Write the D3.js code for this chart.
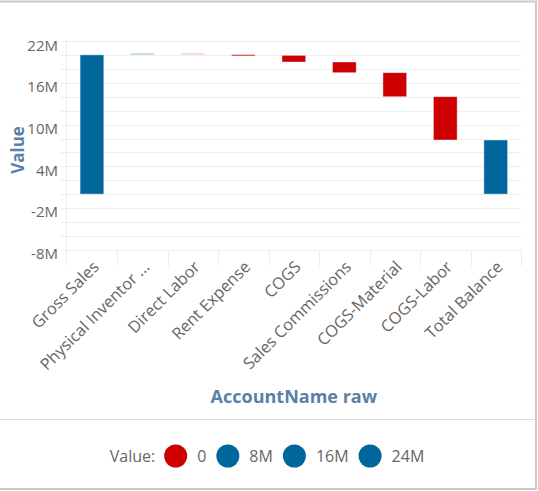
<!DOCTYPE html>
<html>
<head>
<meta charset="utf-8">
<script src="https://cdn.jsdelivr.net/npm/d3@7"></script>
<style>
  body { margin: 0; background: #fff; }
  svg { display: block; font-family: "Open Sans", sans-serif; }
</style>
</head>
<body>
<svg id="chart" width="538" height="491"></svg>
<script>
// waterfall data, values in millions
var categories = ["Gross Sales", "Physical Inventor ...", "Direct Labor", "Rent Expense", "COGS",
    "Sales Commissions", "COGS-Material", "COGS-Labor", "Total Balance"];
var changes = [20.06, 0.25, -0.2, -0.12, -0.96, -1.54, -3.46, -6.24, 0];
var isTotal = [false, false, false, false, false, false, false, false, true];

// axis ticks
var yLabelTicks = [22, 16, 10, 4, -2, -8];
var yGridTicks = d3.range(-8, 23, 2);

// legend entries
var legendLabels = ["0", "8M", "16M", "24M"];
var legendKinds = ["neg", "pos", "pos", "pos"];

var BLUE = "#00669c", RED = "#cc0000";
var svg = d3.select("#chart");

// frame + legend separator
svg.append("rect")
    .attr("x", -5).attr("y", 1.5).attr("width", 541).attr("height", 487.5)
    .attr("fill", "none").attr("stroke", "#c9c9c9").attr("stroke-width", 2);
svg.append("line")
    .attr("x1", 0).attr("x2", 535).attr("y1", 419.5).attr("y2", 419.5)
    .attr("stroke", "#dcdcdc");

// build running totals
var running = 0;
var bars = categories.map(function (c, i) {
    var start, end;
    if (i === 0 || isTotal[i]) {
        start = 0;
        end = i === 0 ? changes[i] : running;
    } else {
        start = running;
        end = running + changes[i];
    }
    running = end;
    return { name: c, start: start, end: end, delta: end - start, total: i === 0 || isTotal[i] };
});

var x = d3.scaleBand().domain(categories).range([66.7, 521]).padding(0);
var y = d3.scaleLinear().domain([-8, 22]).range([249.6, 41.4]);

// gridlines
svg.append("g").selectAll("line")
    .data(yGridTicks)
    .enter().append("line")
    .attr("x1", 61).attr("x2", 521)
    .attr("y1", function (d) { return Math.round(y(d)) + 0.5; })
    .attr("y2", function (d) { return Math.round(y(d)) + 0.5; })
    .attr("stroke", "#ededed");

// left axis line
svg.append("line")
    .attr("x1", 66.5).attr("x2", 66.5).attr("y1", 40).attr("y2", 266)
    .attr("stroke", "#ececec");

// category separators below the plot
svg.append("g").selectAll("line")
    .data(categories.slice(1).map(function (c) { return x(c); }).concat([x.range()[1]]))
    .enter().append("line")
    .attr("x1", function (d) { return Math.round(d) + 0.5; })
    .attr("x2", function (d) { return Math.round(d) + 0.5; })
    .attr("y1", 250).attr("y2", 266)
    .attr("stroke", "#ececec");

// y tick labels
svg.append("g").selectAll("text")
    .data(yLabelTicks)
    .enter().append("text")
    .attr("x", 58)
    .attr("y", function (d) { return y(d) + 4; })
    .attr("dy", "0.35em")
    .attr("text-anchor", "end")
    .attr("fill", "#666")
    .attr("font-size", 15)
    .text(function (d) { return d + "M"; });

// bars
function barFill(d, i) {
    if (d.total) return BLUE;
    return d.delta >= 0 ? BLUE : RED;
}
function barOpacity(d, i) {
    // the tiny steps are drawn faded in the original
    var h = Math.abs(y(d.start) - y(d.end));
    if (h < 2.5) return d.delta >= 0 ? 0.35 : (i === 2 ? 0.25 : 0.75);
    return 1;
}
var bw = x.bandwidth() * 0.47;
svg.append("g").selectAll("rect")
    .data(bars)
    .enter().append("rect")
    .attr("x", function (d) { return x(d.name) + (x.bandwidth() - bw) / 2; })
    .attr("width", bw)
    .attr("y", function (d) { return y(Math.max(d.start, d.end)); })
    .attr("height", function (d) { return Math.max(1.5, Math.abs(y(d.start) - y(d.end))); })
    .attr("fill", barFill)
    .attr("fill-opacity", barOpacity)
    .attr("stroke", "#fff")
    .attr("stroke-opacity", 0.5)
    .attr("stroke-width", 0.8);

// x labels
svg.append("g").selectAll("text")
    .data(categories)
    .enter().append("text")
    .attr("transform", function (d) {
        return "translate(" + (x(d) + x.bandwidth() / 2 + 8) + ",268) rotate(-45)";
    })
    .attr("text-anchor", "end")
    .attr("fill", "#666")
    .attr("font-size", 16.3)
    .text(function (d) { return d; });

// axis titles
svg.append("text")
    .attr("x", (x.range()[0] + x.range()[1]) / 2)
    .attr("y", 403)
    .attr("text-anchor", "middle")
    .attr("fill", "#5b7fa8")
    .attr("font-size", 18)
    .attr("font-weight", "bold")
    .text("AccountName raw");

svg.append("text")
    .attr("transform", "translate(24,150) rotate(-90)")
    .attr("text-anchor", "middle")
    .attr("fill", "#5b7fa8")
    .attr("font-size", 17)
    .attr("font-weight", "bold")
    .text("Value");

// legend, laid out left to right and then centred
var legend = svg.append("g");
var cursor = 0, ly = 462;
var title = legend.append("text")
    .attr("x", 0).attr("y", ly)
    .attr("fill", "#666").attr("font-size", 16)
    .text("Value:");
cursor = title.node().getComputedTextLength() + 9;
legendLabels.forEach(function (lab, i) {
    legend.append("circle")
        .attr("cx", cursor + 11.5).attr("cy", ly - 6).attr("r", 11.5)
        .attr("fill", legendKinds[i] === "neg" ? RED : BLUE);
    cursor += 23 + 10;
    var t = legend.append("text")
        .attr("x", cursor).attr("y", ly)
        .attr("fill", "#666").attr("font-size", 16)
        .text(lab);
    cursor += t.node().getComputedTextLength() + 10;
});
cursor -= 10;
legend.attr("transform", "translate(" + (267 - cursor / 2) + ",0)");
</script>
</body>
</html>
